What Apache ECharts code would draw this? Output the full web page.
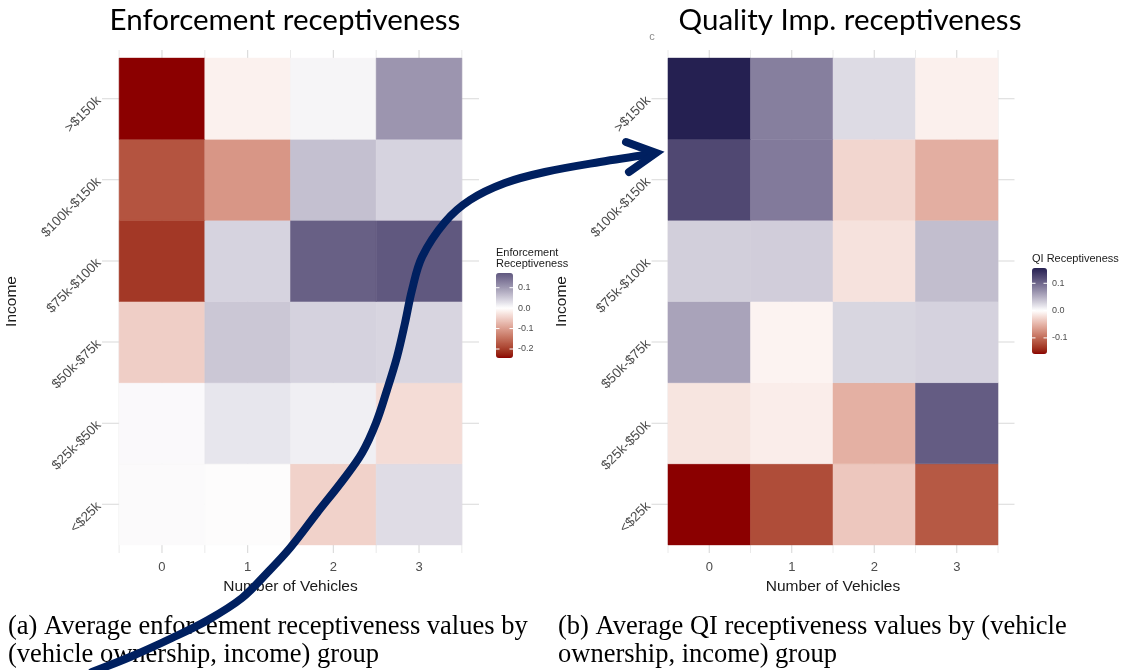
<!DOCTYPE html>
<html>
<head>
<meta charset="utf-8">
<script src="https://cdn.jsdelivr.net/npm/echarts@6/dist/echarts.min.js"></script>
<style>
  html, body { margin: 0; padding: 0; background: #ffffff; }
  #chart { width: 1128px; height: 670px; }
</style>
</head>
<body>
<div id="chart"></div>
<script>
// Number of vehicles owned (x axis) and income bands (y axis, bottom to top)
const vehicles = [0, 1, 2, 3];
const incomeBands = ['<$25k', '$25k-$50k', '$50k-$75k', '$75k-$100k', '$100k-$150k', '>$150k'];

// Average enforcement receptiveness; one row per income band (same order), columns = vehicles 0..3
const enforcementValues = [
  [0.004, 0.002, -0.046, 0.033],
  [0.005, 0.024, 0.016, -0.035],
  [-0.050, 0.054, 0.043, 0.040],
  [-0.206, 0.042, 0.163, 0.172],
  [-0.178, -0.108, 0.061, 0.042],
  [-0.244, -0.014, 0.010, 0.105]
];

// Average quality-improvement (QI) receptiveness; same layout
const qiValues = [
  [-0.159, -0.121, -0.037, -0.113],
  [-0.017, -0.012, -0.053, 0.109],
  [0.059, -0.008, 0.026, 0.028],
  [0.030, 0.031, -0.019, 0.041],
  [0.124, 0.087, -0.027, -0.054],
  [0.156, 0.084, 0.023, -0.010]
];

// Colour-bar break labels
const enforcementBreaks = [0.1, 0.0, -0.1, -0.2];
const qiBreaks = [0.1, 0.0, -0.1];

// ---- diverging colour ramp (low / white / high), interpolated in CIELAB ----
const LOW = '#8b0000', MID = '#ffffff', HIGH = '#211d4e';

function hexToRgb(h) {
  const n = parseInt(h.slice(1), 16);
  return [(n >> 16) & 255, (n >> 8) & 255, n & 255];
}
function toLin(c) { c /= 255; return c <= 0.04045 ? c / 12.92 : Math.pow((c + 0.055) / 1.055, 2.4); }
function fromLin(c) {
  const v = c <= 0.0031308 ? 12.92 * c : 1.055 * Math.pow(c, 1 / 2.4) - 0.055;
  return Math.round(Math.max(0, Math.min(1, v)) * 255);
}
function rgbToLab(rgb) {
  const R = toLin(rgb[0]), G = toLin(rgb[1]), B = toLin(rgb[2]);
  const X = (0.4124 * R + 0.3576 * G + 0.1805 * B) / 0.95047;
  const Y = (0.2126 * R + 0.7152 * G + 0.0722 * B);
  const Z = (0.0193 * R + 0.1192 * G + 0.9505 * B) / 1.08883;
  const f = t => t > 0.008856 ? Math.cbrt(t) : 7.787 * t + 16 / 116;
  const fx = f(X), fy = f(Y), fz = f(Z);
  return [116 * fy - 16, 500 * (fx - fy), 200 * (fy - fz)];
}
function labToHex(lab) {
  const fy = (lab[0] + 16) / 116, fx = fy + lab[1] / 500, fz = fy - lab[2] / 200;
  const inv = t => (t * t * t > 0.008856 ? t * t * t : (t - 16 / 116) / 7.787);
  const X = inv(fx) * 0.95047, Y = inv(fy), Z = inv(fz) * 1.08883;
  const r = fromLin(3.2406 * X - 1.5372 * Y - 0.4986 * Z);
  const g = fromLin(-0.9689 * X + 1.8758 * Y + 0.0415 * Z);
  const b = fromLin(0.0557 * X - 0.2040 * Y + 1.0570 * Z);
  return '#' + [r, g, b].map(v => v.toString(16).padStart(2, '0')).join('');
}
const labLow = rgbToLab(hexToRgb(LOW)), labMid = rgbToLab(hexToRgb(MID)), labHigh = rgbToLab(hexToRgb(HIGH));
function mixLab(a, b, t) { return [0, 1, 2].map(i => a[i] + (b[i] - a[i]) * t); }
// midpoint fixed at 0; the larger of |min|, |max| reaches the end colour
function rampColor(v, extreme) {
  const t = 0.5 + v / (2 * extreme);
  return t < 0.5 ? labToHex(mixLab(labLow, labMid, t / 0.5)) : labToHex(mixLab(labMid, labHigh, (t - 0.5) / 0.5));
}
function rampStops(min, max) {
  const extreme = Math.max(Math.abs(min), Math.abs(max));
  const stops = [];
  const n = 60;
  for (let i = 0; i <= n; i++) stops.push(rampColor(min + (max - min) * i / n, extreme));
  return stops;
}

// ---- data preparation ----
function toCells(rows) {
  const out = [];
  rows.forEach((row, yi) => row.forEach((v, xi) => out.push([vehicles[xi], yi, v])));
  return out;
}
function flatExtent(rows) {
  const all = rows.flat();
  return [Math.min(...all), Math.max(...all)];
}
const enfExtent = flatExtent(enforcementValues);
const qiExtent = flatExtent(qiValues);

// panel limits: continuous x expanded by 5 %, discrete y by 0.6
const X_MIN = -0.7, X_MAX = 3.7, Y_MIN = -0.6, Y_MAX = incomeBands.length - 0.4;

// grid lines: 0 = major vertical, 1 = minor vertical, 2 = major horizontal
const gridLineDefs = [];
vehicles.forEach(v => gridLineDefs.push([0, v]));
[-0.5].concat(vehicles.map(v => v + 0.5)).forEach(v => gridLineDefs.push([1, v]));
incomeBands.forEach((b, i) => gridLineDefs.push([2, i]));

function gridLineSeries(idx) {
  return {
    type: 'custom', xAxisIndex: idx, yAxisIndex: idx, silent: true, clip: false, z: 1,
    data: gridLineDefs,
    renderItem: function (params, api) {
      const kind = api.value(0), pos = api.value(1);
      let a, b;
      if (kind === 2) { a = api.coord([X_MIN, pos]); b = api.coord([X_MAX, pos]); }
      else { a = api.coord([pos, Y_MIN]); b = api.coord([pos, Y_MAX]); }
      return {
        type: 'line',
        shape: { x1: a[0], y1: a[1], x2: b[0], y2: b[1] },
        style: { stroke: kind === 1 ? '#e4e4e4' : '#d9d9d9', lineWidth: kind === 1 ? 0.8 : 1.1 }
      };
    }
  };
}
function tileSeries(idx, rows) {
  return {
    type: 'custom', xAxisIndex: idx, yAxisIndex: idx, silent: true, z: 2,
    encode: { x: 0, y: 1 },
    data: toCells(rows),
    renderItem: function (params, api) {
      const x = api.value(0), y = api.value(1);
      const p0 = api.coord([x - 0.5, y + 0.5]);
      const p1 = api.coord([x + 0.5, y - 0.5]);
      return {
        type: 'rect',
        shape: { x: p0[0], y: p0[1], width: p1[0] - p0[0], height: p1[1] - p0[1] },
        style: { fill: api.visual('color'), stroke: api.visual('color'), lineWidth: 0.5 }
      };
    }
  };
}

const SANS = 'Liberation Sans, Arial, sans-serif';
const TICK_COLOR = '#4d4d4d';

function xAxisCfg(idx) {
  return {
    gridIndex: idx, type: 'value', min: X_MIN, max: X_MAX,
    axisLine: { show: false }, axisTick: { show: false }, splitLine: { show: false },
    axisLabel: {
      customValues: vehicles, color: TICK_COLOR, fontSize: 13, fontFamily: SANS, margin: 8,
      formatter: v => (Number.isInteger(v) ? String(v) : '')
    },
    name: 'Number of Vehicles', nameLocation: 'middle', nameGap: 22,
    nameTextStyle: { color: '#1a1a1a', fontSize: 15.5, fontFamily: SANS }
  };
}
function yAxisCfg(idx) {
  return {
    gridIndex: idx, type: 'value', min: Y_MIN, max: Y_MAX,
    axisLine: { show: false }, axisTick: { show: false }, splitLine: { show: false },
    axisLabel: {
      customValues: incomeBands.map((b, i) => i), color: TICK_COLOR, fontSize: 13.5, fontFamily: SANS,
      margin: 3, rotate: 45,
      formatter: v => (Number.isInteger(v) && incomeBands[v] !== undefined ? incomeBands[v] : '')
    },
    name: 'Income', nameLocation: 'middle', nameRotate: 90, nameGap: 82,
    nameTextStyle: { color: '#1a1a1a', fontSize: 15.5, fontFamily: SANS }
  };
}

// colour-bar geometry
const enfBar = { x: 496, y: 273, w: 17, h: 85 };
const qiBar = { x: 1032, y: 268, w: 15, h: 86 };

function legendGraphics(bar, extent, breaks) {
  const els = [];
  breaks.forEach(t => {
    const y = bar.y + (extent[1] - t) / (extent[1] - extent[0]) * bar.h;
    els.push({ type: 'line', z: 100, shape: { x1: bar.x, y1: y, x2: bar.x + 3.5, y2: y }, style: { stroke: '#ffffff', lineWidth: 1 } });
    els.push({ type: 'line', z: 100, shape: { x1: bar.x + bar.w - 3.5, y1: y, x2: bar.x + bar.w, y2: y }, style: { stroke: '#ffffff', lineWidth: 1 } });
    els.push({
      type: 'text', z: 100, x: bar.x + bar.w + 5, y: y,
      style: { text: t.toFixed(1), fill: TICK_COLOR, font: '9px ' + SANS, align: 'left', verticalAlign: 'middle', textAlign: 'left', textVerticalAlign: 'middle' }
    });
  });
  return els;
}
function textEl(text, x, y, font, align, color) {
  return {
    type: 'text', z: 100, x: x, y: y,
    style: { text: text, fill: color || '#000000', font: font, align: align || 'left', verticalAlign: 'middle', textAlign: align || 'left', textVerticalAlign: 'middle' }
  };
}

const TITLE_FONT = '29.5px Lato, "Open Sans", sans-serif';
const CAPTION_FONT = '26.5px "Liberation Serif", "DejaVu Serif", serif';
const ARROW = '#002060';

// curved connector from the left caption up to the right panel
const arrowPath = [
  [92, 672], [130, 657], [172, 638], [208, 620], [242, 598], [268, 572], [290, 548],
  [317, 513], [343, 480], [362, 453], [376, 423], [387, 390], [397, 357], [405, 323],
  [412, 290], [422, 257], [445, 222], [470, 200], [505, 183], [545, 172], [600, 162], [652, 154]
];

const option = {
  animation: false,
  backgroundColor: '#ffffff',
  grid: [
    { left: 102, top: 50, width: 377, height: 503 },
    { left: 651.5, top: 50, width: 363, height: 503 }
  ],
  xAxis: [xAxisCfg(0), xAxisCfg(1)],
  yAxis: [yAxisCfg(0), yAxisCfg(1)],
  visualMap: [
    {
      type: 'continuous', seriesIndex: 1, dimension: 2,
      min: enfExtent[0], max: enfExtent[1], inRange: { color: rampStops(enfExtent[0], enfExtent[1]) },
      calculable: false, hoverLink: false, orient: 'vertical', padding: 0,
      left: enfBar.x, top: enfBar.y, itemWidth: enfBar.w, itemHeight: enfBar.h, text: null
    },
    {
      type: 'continuous', seriesIndex: 3, dimension: 2,
      min: qiExtent[0], max: qiExtent[1], inRange: { color: rampStops(qiExtent[0], qiExtent[1]) },
      calculable: false, hoverLink: false, orient: 'vertical', padding: 0,
      left: qiBar.x, top: qiBar.y, itemWidth: qiBar.w, itemHeight: qiBar.h, text: null
    }
  ],
  series: [
    gridLineSeries(0), tileSeries(0, enforcementValues),
    gridLineSeries(1), tileSeries(1, qiValues)
  ],
  graphic: [].concat(
    [
      textEl('Enforcement receptiveness', 285, 20, TITLE_FONT, 'center'),
      textEl('Quality Imp. receptiveness', 850, 20, TITLE_FONT, 'center'),
      textEl('c', 652, 37, '11px ' + SANS, 'center', '#8a8a8a'),
      textEl('Enforcement', 496, 253, '11px ' + SANS, 'left', '#1a1a1a'),
      textEl('Receptiveness', 496, 264, '11px ' + SANS, 'left', '#1a1a1a'),
      textEl('QI Receptiveness', 1032, 259, '11px ' + SANS, 'left', '#1a1a1a'),
      textEl('(a) Average enforcement receptiveness values by', 8, 627, CAPTION_FONT, 'left'),
      textEl('(vehicle ownership, income) group', 8, 655, CAPTION_FONT, 'left'),
      textEl('(b) Average QI receptiveness values by (vehicle', 558, 627, CAPTION_FONT, 'left'),
      textEl('ownership, income) group', 558, 655, CAPTION_FONT, 'left')
    ],
    legendGraphics(enfBar, enfExtent, enforcementBreaks),
    legendGraphics(qiBar, qiExtent, qiBreaks),
    [
      {
        type: 'polyline', z: 200, silent: true,
        shape: { points: arrowPath, smooth: 0.35 },
        style: { stroke: ARROW, lineWidth: 8, fill: null, lineCap: 'round', lineJoin: 'round' }
      },
      {
        type: 'polyline', z: 200, silent: true,
        shape: { points: [[626, 142], [656, 153], [629, 172]] },
        style: { stroke: ARROW, lineWidth: 8, fill: null, lineCap: 'round', lineJoin: 'miter' }
      }
    ]
  )
};

const chart = echarts.init(document.getElementById('chart'), null, { renderer: 'canvas' });
chart.setOption(option);
</script>
</body>
</html>
